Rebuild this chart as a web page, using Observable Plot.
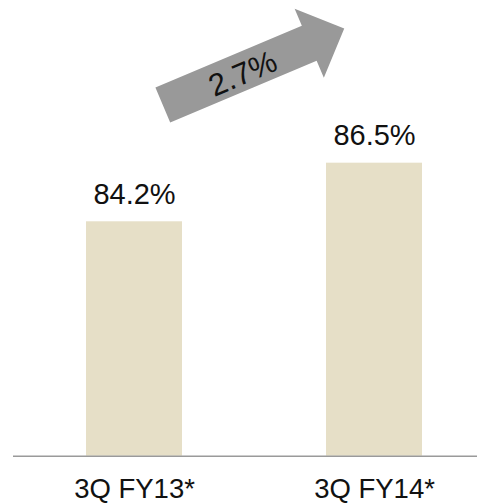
<!DOCTYPE html>
<html><head><meta charset="utf-8">
<script src="https://cdn.jsdelivr.net/npm/d3@7"></script>
<script src="https://cdn.jsdelivr.net/npm/@observablehq/plot@0.6"></script>
<style>body{margin:0;background:#fff} svg{overflow:visible;display:block}</style>
</head><body><div id="chart"></div>
<script>
const categories = ["3Q FY13*", "3Q FY14*"];
const values = [84.2, 86.5];
const valueLabels = ["84.2%", "86.5%"];
const changeLabel = "2.7%";
const yDomain = [75, 90];

const data = categories.map((c, i) => ({category: c, value: values[i], label: valueLabels[i]}));
const font = "'Liberation Sans', Arial, Helvetica, sans-serif";

const chart = Plot.plot({
  width: 477, height: 504,
  marginLeft: 13, marginRight: 0, marginTop: 73.5, marginBottom: 48.3,
  style: {fontFamily: font, background: "#fff", color: "#111", overflow: "visible"},
  x: {domain: categories, paddingInner: 0.6, paddingOuter: 0.231, insetLeft: 17, axis: null},
  y: {domain: yDomain, axis: null},
  marks: [
    Plot.barY(data, {x: "category", y1: yDomain[0], y2: "value", fill: "#E6DFC7"}),
    Plot.ruleY([yDomain[0]], {stroke: "#9a9a9a", strokeWidth: 1.5}),
    Plot.text(data, {x: "category", y: "value", text: "label", dy: -18, lineAnchor: "bottom", fontSize: 29, fill: "#111"}),
    Plot.text(data, {x: "category", y: yDomain[0], text: "category", dy: 41.5, lineAnchor: "bottom", fontSize: 27.5, fill: "#111"})
  ]
});
document.getElementById("chart").appendChild(chart);

// Block arrow annotation, placed through Plot's own scales
const xs = chart.scale("x"), ys = chart.scale("y");
const bw = xs.bandwidth;
const tail = [xs.apply(categories[0]) + 0.8 * bw, ys.apply(88.76)];
const tip = [xs.apply(categories[1]) + 0.19 * bw, ys.apply(91.77)];
const L = Math.hypot(tip[0] - tail[0], tip[1] - tail[1]);
const ang = Math.atan2(tip[1] - tail[1], tip[0] - tail[0]) * 180 / Math.PI;
const sw = 19, hl = 38, hw = 37.5;
const g = d3.select(chart).append("g")
  .attr("transform", `translate(${tail[0]},${tail[1]}) rotate(${ang})`);
g.append("polygon")
  .attr("points", [[0,-sw],[L-hl,-sw],[L-hl,-hw],[L,0],[L-hl,hw],[L-hl,sw],[0,sw]].map(p => p.join(",")).join(" "))
  .attr("fill", "#999999");
g.append("text")
  .attr("x", 86).attr("y", 2)
  .attr("text-anchor", "middle")
  .attr("dominant-baseline", "central")
  .attr("font-size", 31)
  .attr("font-family", font)
  .attr("fill", "#111")
  .text(changeLabel);
</script>
</body></html>
